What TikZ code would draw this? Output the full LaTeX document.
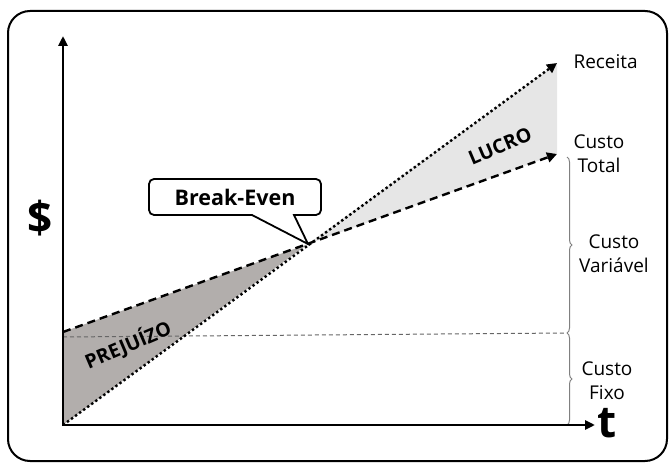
\documentclass[tikz,border=0pt]{standalone}
\usepackage{fontspec}
\setmainfont{Open Sans}
\usetikzlibrary{arrows.meta,decorations.pathreplacing}
\definecolor{perda}{HTML}{B2AEAC}
\definecolor{ganho}{HTML}{E6E6E6}

\begin{document}
\begin{tikzpicture}[x=1pt,y=-1pt,
  tip/.style={-{Triangle[length=10pt,width=10pt]}},
  curva/.style={tip,line width=2.4pt},
  lbl/.style={font=\fontsize{19}{24}\selectfont,align=center},
  zona/.style={font=\bfseries\fontsize{19.5}{22}\selectfont,rotate=23},
  chave/.style={draw=gray,line width=1pt,decorate,decoration={brace,amplitude=5pt}}]
  \useasboundingbox (0,0) rectangle (670,465);
  \draw[line width=2pt,rounded corners=22pt] (8,11) rectangle (667,461);
  \coordinate (O) at (63,425);
  \coordinate (ytop) at (63,36);
  \coordinate (xend) at (595,425);
  \coordinate (cf) at (63,332);
  \coordinate (be) at (308,244);
  \coordinate (rec) at (557,63);
  \coordinate (ct) at (557,154);
  \coordinate (fx0) at (63,337);
  \coordinate (fx1) at (567,333);
  \coordinate (bt) at (567,157);
  \coordinate (bb) at (567,425);
  \fill[perda] (O) -- (cf) -- (be) -- cycle;
  \fill[ganho] (be) -- (rec) -- (ct) -- cycle;
  \draw[gray!80!black,line width=1pt,dash pattern=on 4pt off 3pt] (fx0) -- (fx1);
  \draw[chave] (bt) -- (fx1);
  \draw[chave] (fx1) -- (bb);
  \draw[line width=2.5pt,{Triangle[length=10pt,width=9pt]}-{Triangle[length=10pt,width=9pt]}] (ytop) -- (O) -- (xend);
  \draw[curva,dash pattern=on 2.4pt off 2.6pt] (O) -- (rec);
  \draw[curva,dash pattern=on 8pt off 5pt] (cf) -- (ct);
  \node[lbl,anchor=west] (lrec) at (570,62) {Receita};
  \node[lbl] (lct) at (599,154) {Custo\\Total};
  \node[lbl] (lcv) at (614,254) {Custo\\Variável};
  \node[lbl] (lcf) at (607,381) {Custo\\Fixo};
  \node[font=\bfseries\fontsize{44}{46}\selectfont] (dol) at (40,218) {\$};
  \node[font=\bfseries\fontsize{44}{46}\selectfont] (t) at (607,423) {t};
  \node[zona] (lucro) at (500,146) {LUCRO};
  \node[zona] (prej) at (128,345) {PREJUÍZO};
  % balao
  \coordinate (b1) at (149,179);
  \coordinate (b2) at (321,179);
  \coordinate (b3) at (321,215);
  \coordinate (b4) at (149,215);
  \coordinate (p1) at (294,215);
  \coordinate (p2) at (252,215);
  \draw[line width=1.8pt,fill=white,rounded corners=5pt]
    (b1) -- (b2) -- (b3) [sharp corners] -- (p1) -- (be) -- (p2)
    [rounded corners=5pt] -- (b4) -- cycle;
  \node[font=\bfseries\fontsize{21.5}{24}\selectfont] (bev) at (235,197) {Break-Even};
\end{tikzpicture}
\end{document}
